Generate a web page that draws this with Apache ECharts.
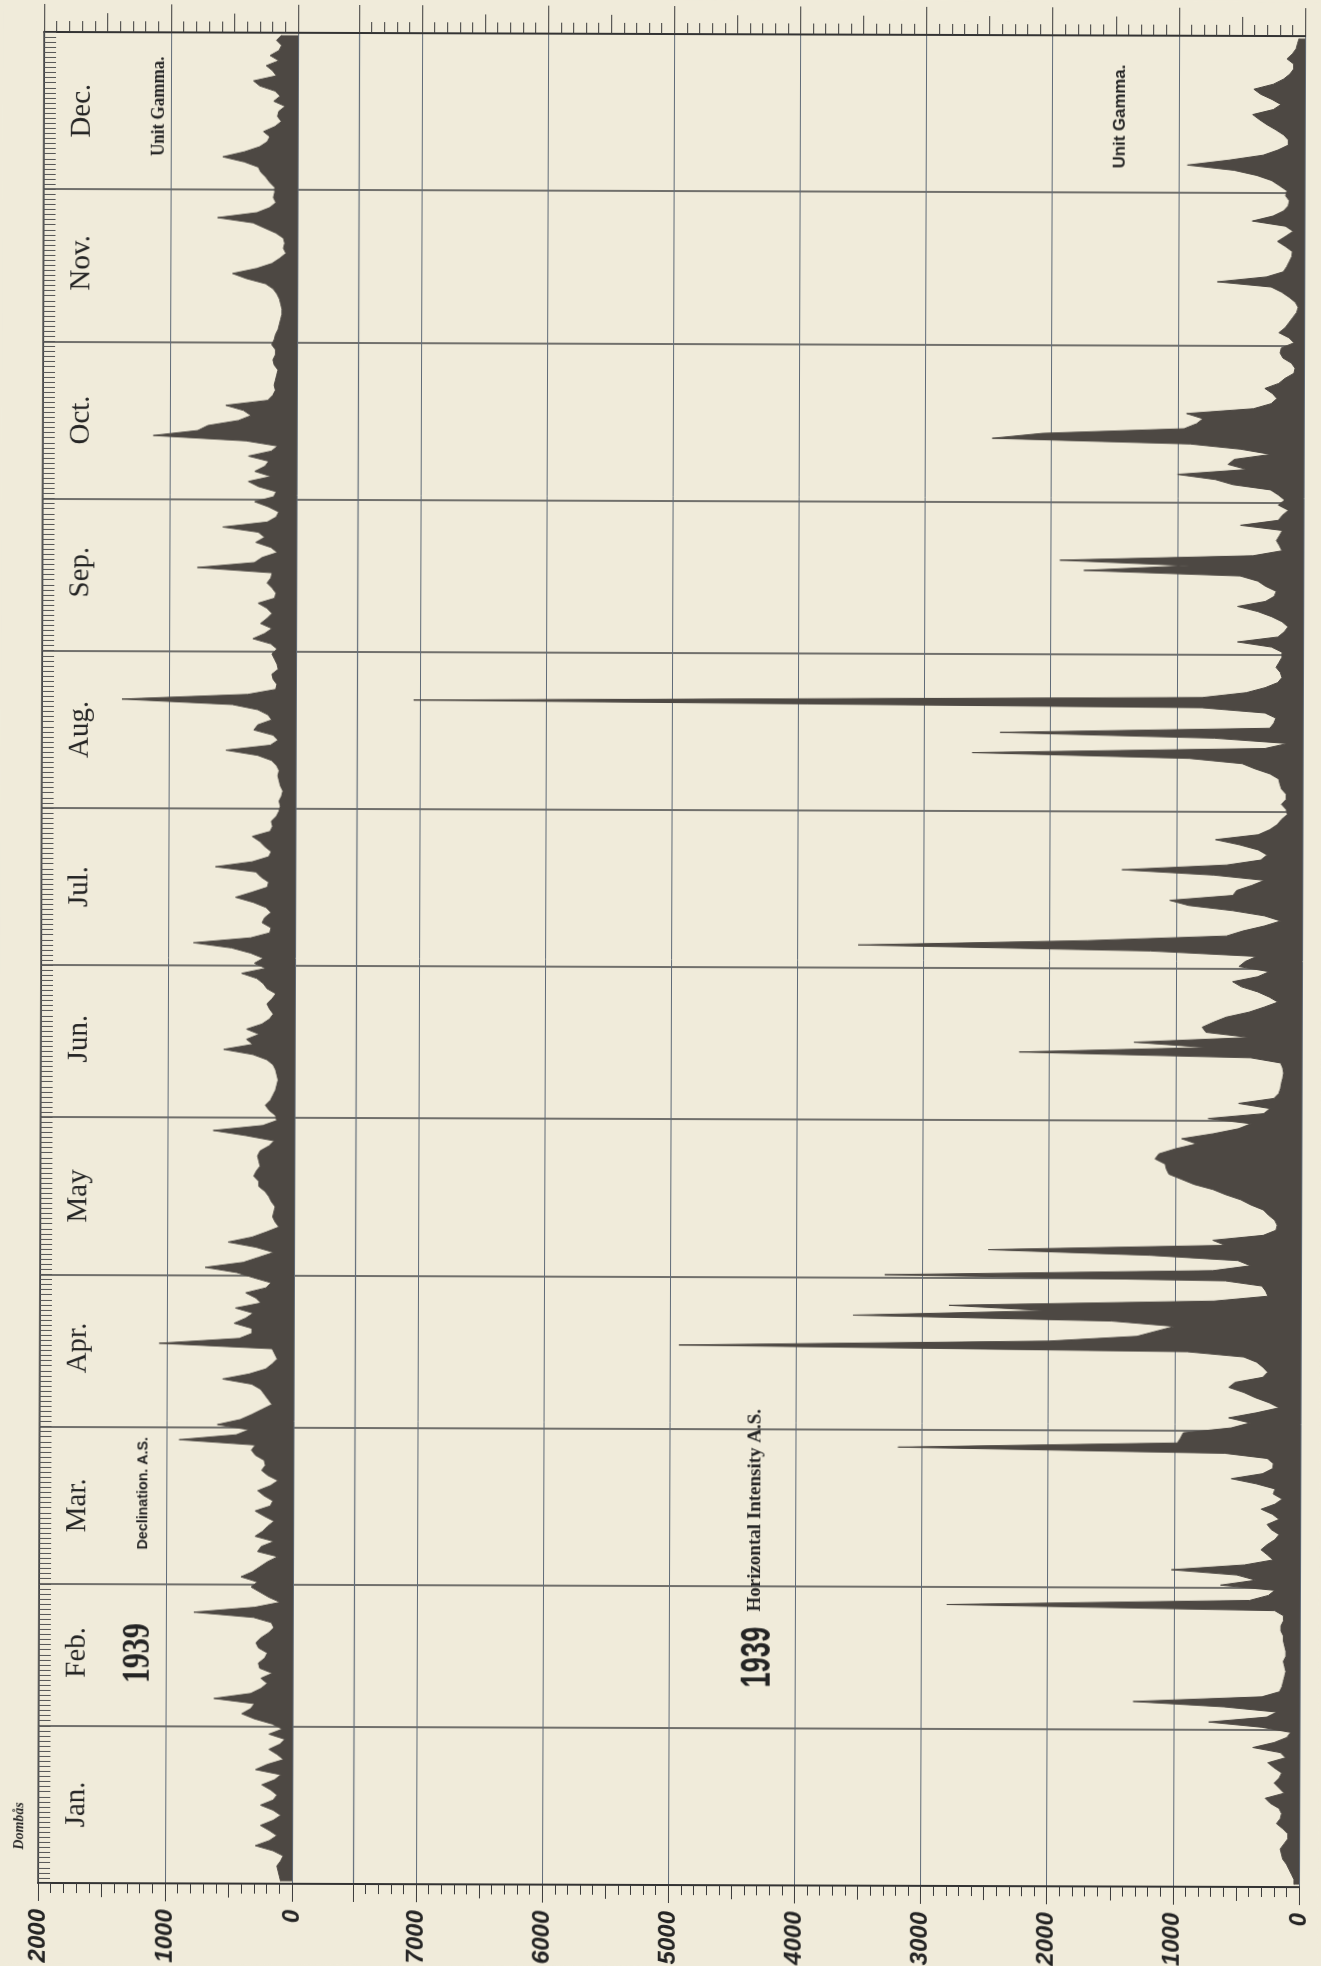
<!DOCTYPE html>
<html><head><meta charset="utf-8">
<script src="https://cdn.jsdelivr.net/npm/echarts/dist/echarts.min.js"></script>
<style>html,body{margin:0;padding:0;background:#f0ebda;overflow:hidden;}#chart{width:1321px;height:1966px;transform:rotate(0.19deg);transform-origin:50% 50%;}</style>
</head><body><div id="chart"></div>
<script>
// ---- categories ----
const monthNames = ['Jan.','Feb.','Mar.','Apr.','May','Jun.','Jul.','Aug.','Sep.','Oct.','Nov.','Dec.'];
const monthLengths = [31,28,31,30,31,30,31,31,30,31,30,31];
// ---- axis tick settings (values) ----
const declMax = 2000;
const horizMax = 7500;
const majorStep = 1000, midStep = 500, minorStep = 100;

// ---- Declination A.S. (unit gamma), daily values ----
const declJan = [90,100,110,120,90,70,150,290,180,120,180,250,150,90,150,250,150,120,170,240,140,90,290,200,70,120,185,100,60,185,80];
const declFeb = [160,300,400,330,300,620,330,250,200,250,160,260,270,220,200,270,290,250,190,150,170,310,780,300,100,190,260,330];
const declMar = [280,410,320,260,200,120,280,250,150,300,240,200,150,230,300,180,160,230,280,180,120,200,250,220,230,300,330,300,900,450,350];
const declApr = [600,420,330,250,170,200,230,260,330,560,350,220,170,130,150,170,1060,430,330,330,470,380,320,460,260,300,380,220,180,320];
const declMay = [450,700,400,280,160,300,520,330,220,120,150,170,160,150,180,200,230,280,280,320,300,270,280,290,270,200,160,380,640,250,140];
const declJun = [150,200,230,190,170,150,140,130,140,150,170,220,330,560,330,380,280,380,260,200,170,200,220,180,150,220,250,300,420,230];
const declJul = [320,250,350,500,800,350,200,190,260,240,190,230,330,470,340,220,210,270,310,630,340,210,190,240,280,340,200,180,190,150,130];
const declAug = [120,130,110,100,120,130,140,130,150,190,300,550,200,140,180,330,300,190,220,300,500,1370,380,160,150,180,190,140,150,170,190];
const declSep = [150,200,340,250,190,280,230,190,230,300,170,160,190,230,200,190,780,330,270,150,200,320,250,300,580,230,160,140,220,330];
const declOct = [180,160,300,380,200,330,250,220,380,200,150,400,1130,780,700,460,360,420,560,230,190,170,180,170,160,150,180,190,170,170,200];
const declNov = [180,170,150,140,130,120,120,130,140,160,190,250,400,510,320,200,140,90,110,100,110,170,260,350,630,320,220,170,190,180];
const declDec = [180,220,250,290,310,420,590,420,300,240,220,270,180,130,160,150,100,190,140,180,300,350,170,200,250,150,220,150,130,170,130];

// ---- Horizontal Intensity A.S. (unit gamma), daily values ----
const horJan = [40,40,60,80,100,130,140,150,120,90,90,130,180,150,140,160,230,270,120,160,200,160,140,200,250,110,150,370,200,100,70];
const horFeb = [300,720,260,180,600,1320,300,160,140,130,120,110,120,130,110,110,120,130,130,150,150,130,130,200,2800,400,250,200];
const horMar = [630,350,500,1020,440,214,260,310,262,200,167,230,262,167,220,310,200,143,214,200,350,548,300,220,214,262,600,3190,976,950,929];
const horApr = [550,400,570,350,170,250,360,450,570,520,300,262,300,350,452,900,4930,2000,1300,1150,1000,1500,3550,2000,2790,690,262,280,310,600];
const horMay = [3300,700,400,500,1200,2480,600,700,300,200,190,210,260,300,400,480,600,700,850,950,1050,1070,1080,1160,1130,1000,830,950,700,500,400];
const horJun = [740,300,250,500,220,180,167,160,150,143,150,167,405,2240,740,1330,410,760,790,700,600,420,300,190,260,350,480,550,350,260];
const horJul = [500,450,360,1200,3520,1700,600,470,300,170,300,550,900,1050,550,520,400,300,700,1430,600,330,280,350,500,690,350,260,200,167,120];
const horAug = [130,167,130,130,167,180,190,260,380,480,900,2620,300,120,700,2400,262,230,214,300,800,7050,800,450,300,200,167,180,214,190,167];
const horSep = [167,250,520,200,150,120,167,250,360,520,300,230,214,300,360,500,1740,900,1930,400,170,190,214,190,167,500,200,167,120,200];
const horOct = [150,200,262,560,700,1000,450,600,550,260,500,900,2470,2070,950,850,800,930,400,260,214,250,310,200,150,80,71,100,167,190,180];
const horNov = [80,120,200,150,120,90,60,48,70,120,180,262,690,300,167,140,120,100,95,150,214,150,90,150,414,250,167,130,120,150];
const horDec = [140,200,262,380,560,930,600,330,214,130,130,167,230,300,360,414,250,190,262,350,405,250,170,120,90,90,143,100,71,60,48];

// ---- build ----
const decl = [].concat(declJan,declFeb,declMar,declApr,declMay,declJun,declJul,declAug,declSep,declOct,declNov,declDec);
const horiz = [].concat(horJan,horFeb,horMar,horApr,horMay,horJun,horJul,horAug,horSep,horOct,horNov,horDec);
const dayCats = [];
const monthStarts = new Set();
const midDays = new Map();
let acc = 0;
monthLengths.forEach((len, m) => {
  monthStarts.add(acc);
  midDays.set(acc + Math.floor(len / 2), monthNames[m]);
  for (let d = 1; d <= len; d++) dayCats.push(monthNames[m] + ' ' + d);
  acc += len;
});

const INK = '#4d4843';
const PAPER = '#f0ebda';
const GRIDV = '#5f6a77';
const GRIDH = '#474747';
const TXT = '#242424';

const G_TOP = 34, G_BOTTOM = 81;
const grids = [
  {left: 41, right: 19, top: G_TOP, bottom: G_BOTTOM},           // background (month lines, borders)
  {left: 41, width: 254, top: G_TOP, bottom: G_BOTTOM},          // declination
  {left: 356, width: 946, top: G_TOP, bottom: G_BOTTOM}          // horizontal intensity
].map(g => Object.assign({outerBoundsMode: 'none', containLabel: false}, g));

function valAxis(grid, max, pos, interval, tickLen, extra) {
  return Object.assign({
    gridIndex: grid, type: 'value', min: 0, max: max, interval: interval, inverse: true, position: pos,
    axisLine: {show: false, onZero: false},
    axisTick: {show: true, length: tickLen, lineStyle: {color: '#3b3b3b', width: 1}},
    axisLabel: {show: false},
    splitLine: {show: false}
  }, extra || {});
}
const labelStyle = {
  show: true, rotate: 90, margin: 26, color: TXT,
  fontFamily: '"Liberation Sans Narrow", "Liberation Sans", sans-serif',
  fontStyle: 'italic', fontWeight: 'bold', fontSize: 24
};
function mainAxis(grid, max) {
  return valAxis(grid, max, 'bottom', majorStep, 18, {
    axisLabel: Object.assign({}, labelStyle, {formatter: v => (v % majorStep === 0 ? String(v) : '')}),
    splitLine: {show: true, lineStyle: {color: GRIDV, width: 1}}
  });
}

const xAxes = [
  {gridIndex: 0, type: 'value', min: 0, max: 1, position: 'bottom', axisLine: {show: true, onZero: false, lineStyle: {color: '#333', width: 2}}, axisTick: {show: false}, axisLabel: {show: false}, splitLine: {show: false}},
  {gridIndex: 0, type: 'value', min: 0, max: 1, position: 'top', axisLine: {show: true, onZero: false, lineStyle: {color: '#333', width: 2}}, axisTick: {show: false}, axisLabel: {show: false}, splitLine: {show: false}},
  mainAxis(1, declMax),
  valAxis(1, declMax, 'bottom', midStep, 14),
  valAxis(1, declMax, 'bottom', minorStep, 10),
  valAxis(1, declMax, 'top', majorStep, 28),
  valAxis(1, declMax, 'top', midStep, 19),
  valAxis(1, declMax, 'top', minorStep, 11),
  mainAxis(2, horizMax),
  valAxis(2, horizMax, 'bottom', midStep, 14),
  valAxis(2, horizMax, 'bottom', minorStep, 10),
  valAxis(2, horizMax, 'top', majorStep, 28),
  valAxis(2, horizMax, 'top', midStep, 19),
  valAxis(2, horizMax, 'top', minorStep, 11)
];

const yAxes = [
  {gridIndex: 0, type: 'category', data: dayCats, boundaryGap: true,
   axisLine: {show: false, onZero: false}, axisTick: {show: false}, axisLabel: {show: false},
   splitLine: {show: true, interval: (i) => monthStarts.has(i), lineStyle: {color: GRIDH, width: 1.6}}},
  {gridIndex: 1, type: 'category', data: dayCats, boundaryGap: true, position: 'left',
   axisLine: {show: true, onZero: false, lineStyle: {color: '#3a3a3a', width: 1.5}},
   axisTick: {show: true, inside: true, interval: 0, length: 12, lineStyle: {color: '#555', width: 1}},
   axisLabel: {show: true, inside: true, rotate: 90, margin: 24, interval: (i) => midDays.has(i),
     formatter: (v, i) => midDays.get(i) || '', color: TXT,
     fontFamily: '"Liberation Serif", serif', fontSize: 29},
   splitLine: {show: false}},
  {gridIndex: 2, type: 'category', data: dayCats, boundaryGap: true, position: 'left',
   axisLine: {show: true, onZero: false, lineStyle: {color: GRIDV, width: 1.2}},
   axisTick: {show: false}, axisLabel: {show: false}, splitLine: {show: false}}
];

function rotText(x, y, text, font, sx) {
  return {type: 'text', x: x, y: y, rotation: Math.PI / 2, scaleX: sx || 1, silent: true,
    style: Object.assign({text: text, fill: TXT, align: 'center', verticalAlign: 'middle'}, font)};
}

const option = {
  backgroundColor: PAPER,
  animation: false,
  grid: grids,
  xAxis: xAxes,
  yAxis: yAxes,
  series: [
    {type: 'line', name: 'Declination A.S.', xAxisIndex: 2, yAxisIndex: 1, data: decl, symbol: 'none',
     lineStyle: {color: INK, width: 1}, areaStyle: {color: INK, opacity: 1}, silent: true, z: 3},
    {type: 'line', name: 'Horizontal Intensity A.S.', xAxisIndex: 8, yAxisIndex: 2, data: horiz, symbol: 'none',
     lineStyle: {color: INK, width: 1}, areaStyle: {color: INK, opacity: 1}, silent: true, z: 3}
  ],
  graphic: [
    rotText(141, 1655, '1939', {fontFamily: '"Liberation Serif", serif', fontWeight: 'bold', fontSize: 40}, 0.75),
    rotText(145, 1495, 'Declination. A.S.', {fontFamily: '"Liberation Sans", sans-serif', fontWeight: 'bold', fontSize: 15}, 0.95),
    rotText(156, 108, 'Unit Gamma.', {fontFamily: '"Liberation Serif", serif', fontWeight: 'bold', fontSize: 18}, 0.95),
    rotText(760, 1657, '1939', {fontFamily: '"Liberation Sans", sans-serif', fontWeight: 'bold', fontSize: 42}, 0.65),
    rotText(757, 1510, 'Horizontal Intensity A.S.', {fontFamily: '"Liberation Serif", serif', fontWeight: 'bold', fontSize: 19}, 1),
    rotText(1118, 115, 'Unit Gamma.', {fontFamily: '"Liberation Sans", sans-serif', fontWeight: 'bold', fontSize: 16}, 1.05),
    rotText(22, 1828, 'Dombås', {fontFamily: '"Liberation Serif", serif', fontStyle: 'italic', fontWeight: 'bold', fontSize: 14}, 1)
  ]
};

const chart = echarts.init(document.getElementById('chart'), null, {renderer: 'canvas'});
chart.setOption(option);
</script></body></html>
